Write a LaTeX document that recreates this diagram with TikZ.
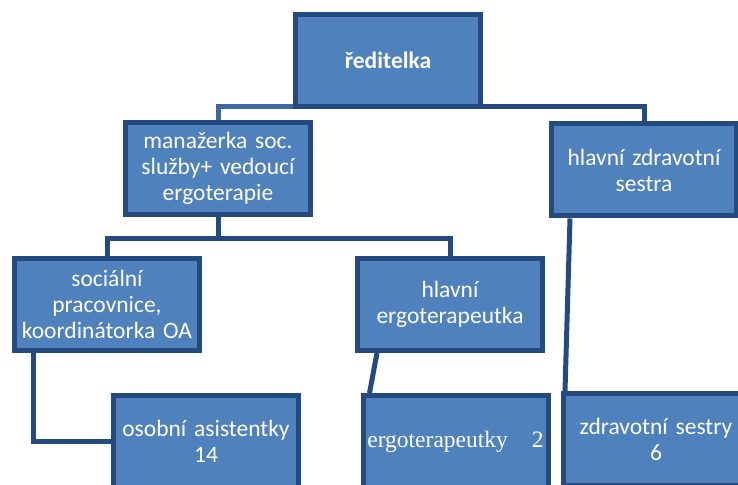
\documentclass[tikz,border=0pt]{standalone}
\usepackage{fontspec}
\setmainfont{Carlito}
\newfontfamily\timesfont{Liberation Serif}
\usetikzlibrary{positioning,calc}
\definecolor{orgfill}{RGB}{79,129,189}
\definecolor{orgline}{RGB}{37,74,128}
\definecolor{orglight}{RGB}{62,104,160}

\begin{document}
\begin{tikzpicture}[
        x=1pt,y=1pt,
        every node/.style={font=\fontsize{23.5}{26}\selectfont,align=center},
        orgbox/.style={draw=orgline,line width=5pt,fill=orgfill,text=white,
                   minimum width=185pt,minimum height=92pt,text width=180pt,inner sep=2pt},
        conn/.style={draw=orgline,line width=5pt}
    ]
        \useasboundingbox (0,0) rectangle (738,484);
        % connectors first, boxes on top
        \coordinate (cred) at (388,423.5);
        \coordinate (cman) at (218,315.5);
        \coordinate (czdr) at (644,314);
        \coordinate (csoc) at (107,179.5);
        \coordinate (cerg) at (450,179.5);
        \node[orgbox] (reditelka) at (cred) {\textbf{ředitelka}};
        \node[orgbox] (manazerka) at (cman) {manažerka soc.\\služby+ vedoucí\\ergoterapie};
        \node[orgbox] (zdravotni) at (czdr) {hlavní zdravotní\\sestra};
        \node[orgbox] (socialni) at (csoc) {sociální\\pracovnice,\\koordinátorka OA};
        \node[orgbox] (hlergo) at (cerg) {hlavní\\ergoterapeutka};
        \node[orgbox] (asistentky) at (206,42.5) {osobní asistentky\\14};
        \node[orgbox] (ergoterapeutky) at (455.5,42.5) {\timesfont ergoterapeutky\hspace{24pt}2};
        \node[orgbox] (sestry) at (656,44.5) {zdravotní sestry\\6};
        \draw[conn,draw=orglight] ([yshift=2.5pt]reditelka.south west) -| (manazerka.north);
        \draw[conn] ([yshift=2.5pt]reditelka.south east) -| (zdravotni.north);
        \draw[conn] (manazerka.south) -- ++(0,-21);
        \draw[conn] (socialni.north) -- ++(0,17) -| (hlergo.north);
        \draw[conn] ([xshift=21pt]socialni.south west) |- (asistentky.west);
        \draw[conn] ([xshift=22pt]hlergo.south west) -- ([xshift=9pt]ergoterapeutky.north west);
        \draw[conn] ([xshift=21pt]zdravotni.south west) -- ([xshift=4pt]sestry.north west);
    \end{tikzpicture}
\end{document}
